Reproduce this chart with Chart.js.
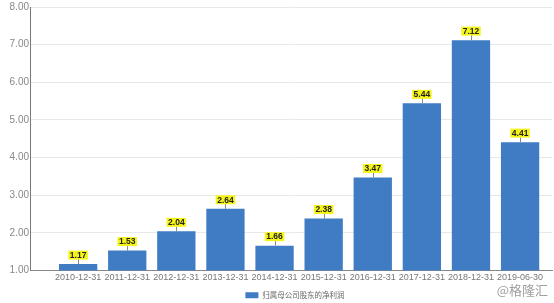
<!DOCTYPE html>
<html>
<head>
<meta charset="utf-8">
<script src="https://cdn.jsdelivr.net/npm/chart.js@4"></script>
<style>
  html, body { margin: 0; padding: 0; background: #fff; }
  #wrap { position: relative; width: 554px; height: 303px; }
  #mark { position: absolute; right: 6px; top: 280px; font: 13px "Noto Sans CJK SC", sans-serif; color: #a0a0a0; }
</style>
</head>
<body>
<div id="wrap">
  <canvas id="chart-canvas" width="554" height="303"></canvas>
  <div id="mark">@格隆汇</div>
</div>
<script>
// data
var categories = ["2010-12-31", "2011-12-31", "2012-12-31", "2013-12-31", "2014-12-31",
                  "2015-12-31", "2016-12-31", "2017-12-31", "2018-12-31", "2019-06-30"];
var netProfit = [1.17, 1.53, 2.04, 2.64, 1.66, 2.38, 3.47, 5.44, 7.12, 4.41];
var seriesName = "归属母公司股东的净利润";
var yTicks = [1, 2, 3, 4, 5, 6, 7, 8];

// yellow value tags above each bar
var valueTags = {
    id: 'valueTags',
    afterDatasetsDraw: function (chart) {
        var c = chart.ctx;
        var meta = chart.getDatasetMeta(0);
        c.save();
        c.font = 'bold 8.5px "Liberation Sans", Arial, sans-serif';
        c.textAlign = 'center';
        c.textBaseline = 'middle';
        meta.data.forEach(function (bar, i) {
            var txt = netProfit[i].toFixed(2);
            var w = c.measureText(txt).width + 3;
            var h = 9;
            var cy = bar.y - 9;
            c.strokeStyle = '#888';
            c.lineWidth = 1;
            c.beginPath();
            c.moveTo(Math.round(bar.x) + 0.5, bar.y);
            c.lineTo(Math.round(bar.x) + 0.5, cy);
            c.stroke();
            c.fillStyle = '#f5f51a';
            c.fillRect(bar.x - w / 2, cy - h / 2, w, h);
            c.fillStyle = '#222';
            c.fillText(txt, bar.x, cy + 0.5);
        });
        c.restore();
    }
};

// legend sits a little right of the canvas centre in the original
var legendShift = {
    id: 'legendShift',
    afterLayout: function (chart) {
        chart.legend.left += 19;
        chart.legend.right += 19;
    }
};

var ctx = document.getElementById('chart-canvas').getContext('2d');
var myChart = new Chart(ctx, {
    type: 'bar',
    data: {
        datasets: [
            {
                label: seriesName,
                backgroundColor: "#3f7cc4",
                barPercentage: 0.78,
                categoryPercentage: 1.0,
                data: netProfit.map(function (v, i) { return { x: i, y: v }; })
            }
        ]
    },
    options: {
        responsive: false,
        animation: false,
        layout: { padding: { left: 0, right: 2, top: 5, bottom: -6 } },
        plugins: {
            tooltip: { enabled: false },
            legend: {
                position: 'bottom',
                labels: {
                    boxWidth: 13,
                    boxHeight: 6,
                    padding: 2,
                    color: '#666',
                    font: { size: 7.5, family: '"Noto Sans CJK SC", sans-serif' }
                }
            }
        },
        scales: {
            x: {
                type: 'linear',
                offset: false,
                min: -0.98,
                max: 9.65,
                afterBuildTicks: function (axis) {
                    axis.ticks = categories.map(function (c, i) { return { value: i }; });
                },
                afterFit: function (axis) { axis.height = 19; },
                ticks: {
                    color: '#777',
                    font: { size: 9, family: '"Liberation Sans", Arial, sans-serif' },
                    padding: 2,
                    maxRotation: 0,
                    autoSkip: false,
                    callback: function (v) { return categories[v]; }
                },
                grid: { display: false, drawTicks: false },
                border: { color: '#888', width: 1 }
            },
            y: {
                min: 1,
                max: 8,
                afterBuildTicks: function (axis) {
                    axis.ticks = yTicks.map(function (v) { return { value: v }; });
                },
                afterFit: function (axis) { axis.width = 30; },
                ticks: {
                    color: '#888',
                    font: { size: 10, family: '"Liberation Sans", Arial, sans-serif' },
                    padding: 1,
                    callback: function (v) { return v.toFixed(2); }
                },
                grid: { color: '#e8e8e8', drawTicks: false },
                border: { color: '#777', width: 1 }
            }
        }
    },
    plugins: [valueTags, legendShift]
});
</script>
</body>
</html>
